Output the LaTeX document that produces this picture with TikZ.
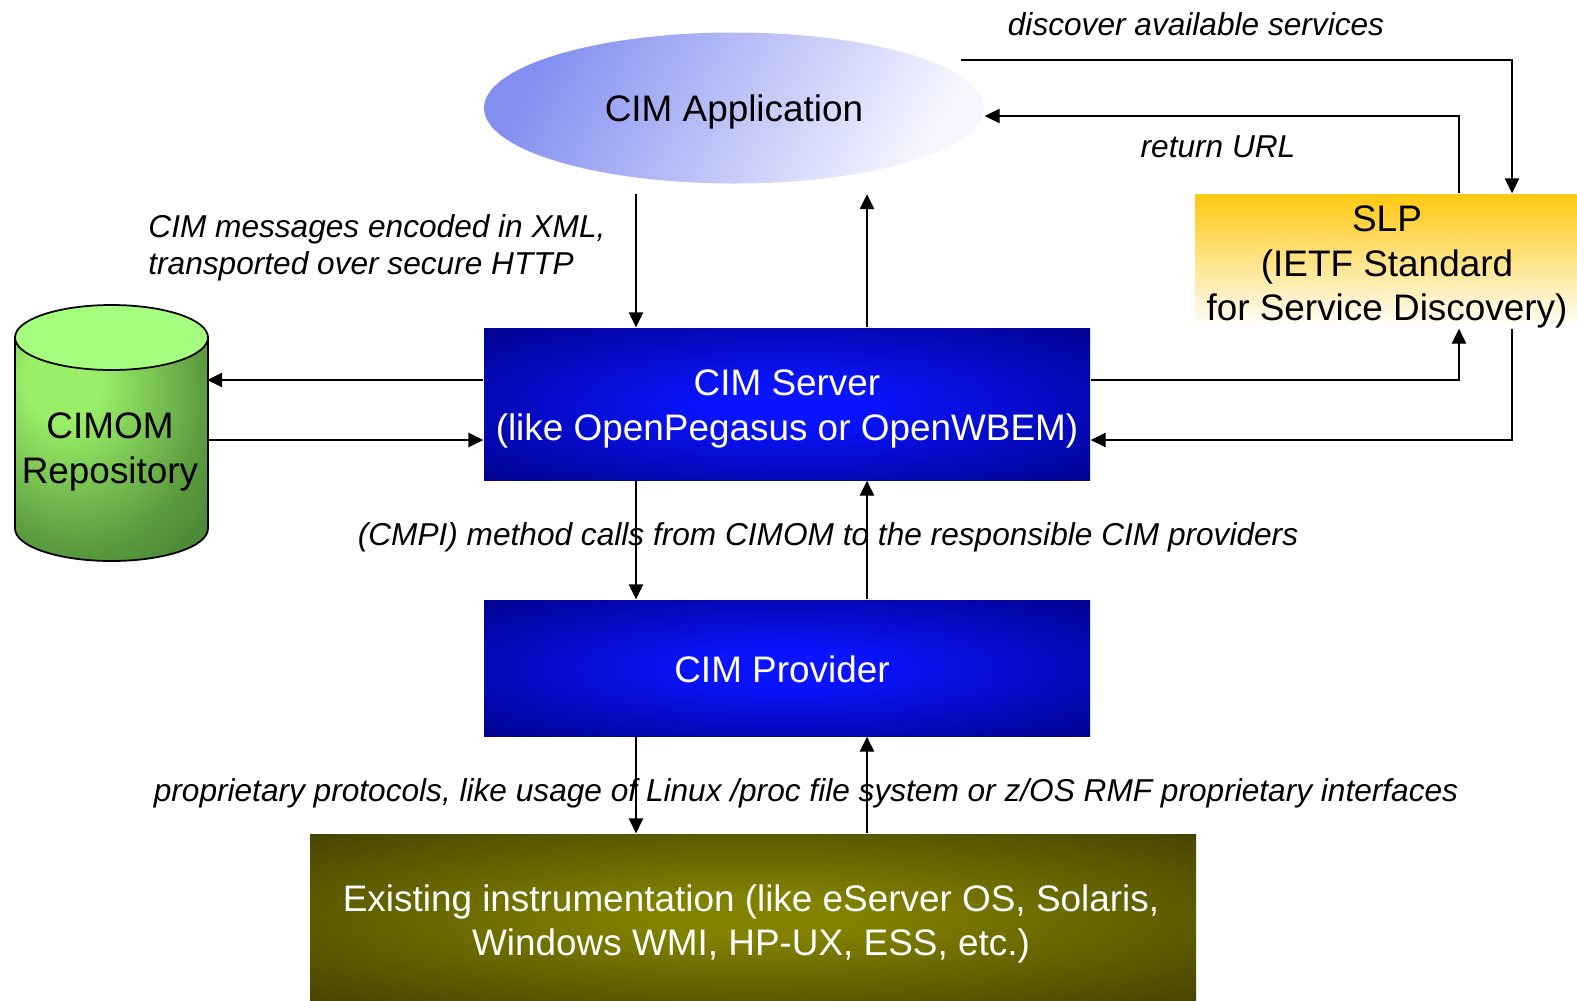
\documentclass[tikz,border=0pt]{standalone}
\usepackage{fontspec}
\setmainfont{Liberation Sans}
\usetikzlibrary{arrows.meta,shapes.geometric,calc}

\definecolor{appblue}{HTML}{8490F0}
\definecolor{appwhite}{HTML}{F6F6FF}
\definecolor{slpgold}{HTML}{FFC810}
\definecolor{srvcore}{HTML}{0A14FF}
\definecolor{srvedge}{HTML}{00007E}
\definecolor{olvcore}{HTML}{828200}
\definecolor{olvedge}{HTML}{3E3B00}
\definecolor{cylA}{HTML}{9AEE68}
\definecolor{cylB}{HTML}{5E9F40}
\definecolor{cylC}{HTML}{3A7230}
\definecolor{cyltop}{HTML}{A6FF7E}

% radial glow for the dark boxes
\pgfdeclareradialshading{blueglow}{\pgfpointorigin}{color(0bp)=(srvcore); color(6bp)=(srvcore); color(40bp)=(srvedge); color(70bp)=(srvedge)}
\pgfdeclareradialshading{oliveglow}{\pgfpointorigin}{color(0bp)=(olvcore); color(6bp)=(olvcore); color(40bp)=(olvedge); color(70bp)=(olvedge)}
% off-centre glow for the repository barrel
\pgfdeclareradialshading{barrelglow}{\pgfpoint{-14bp}{18bp}}{color(0bp)=(cylA); color(10bp)=(cylA); color(32bp)=(cylB); color(52bp)=(cylC); color(90bp)=(cylC)}

\tikzset{
  boxfont/.style={font=\fontsize{10.5}{12.7}\selectfont},
  lblfont/.style={font=\fontsize{9}{10.6}\selectfont\itshape},
  boxtext/.style={boxfont, align=center, inner sep=0pt},
  darkbox/.style={rectangle, inner sep=0pt, shading=blueglow},
  olivebox/.style={rectangle, inner sep=0pt, shading=oliveglow},
  arr/.style={draw=black, line width=0.4pt, -{Triangle[length=1.5mm, width=1.45mm]}},
}

\begin{document}
\begin{tikzpicture}[x=0.1mm, y=-0.1mm]
\useasboundingbox (0,0) rectangle (1577,1000);

% guide coordinates for connector lanes
\coordinate (xa) at (636,0);
\coordinate (xb) at (867,0);
\coordinate (xL) at (1459,0);
\coordinate (xR) at (1512,0);
\coordinate (yA) at (0,380);
\coordinate (yB) at (0,440);
\coordinate (yR) at (0,116);

% client application
\node[ellipse, minimum width=50mm, minimum height=15.1mm, inner sep=0pt,
      top color=appblue, bottom color=appwhite, shading angle=60]
      (app) at (734,108) {};
\node[boxtext] (appT) at ($(app.center)+(0,4)$) {CIM Application};
\coordinate (appout) at ($(app.east)+(-24,-48)$);

% service location protocol
\node[rectangle, minimum width=38.2mm, minimum height=13.4mm, inner sep=0pt,
      top color=slpgold, bottom color=white]
      (slp) at (1386,261) {};
\node[boxtext] (slpT) at ($(slp.center)+(1,6)$) {SLP\\(IETF Standard\\for Service Discovery)};

% repository barrel
\filldraw[draw=black, line width=0.5pt, shading=barrelglow]
  (15,337.5) -- (15,528.5)
  arc[start angle=180, end angle=360, x radius=9.65mm, y radius=3.25mm]
  -- (208,337.5) -- cycle;
\filldraw[draw=black, line width=0.5pt, fill=cyltop]
  (111.5,337.5) ellipse[x radius=9.65mm, y radius=3.25mm];
\node[minimum width=19.3mm, boxtext]
  (repo) at (110,452) {CIMOM\\Repository};

% server, provider, instrumentation
\node[darkbox, minimum width=60.6mm, minimum height=15.2mm] (srv) at (787,404) {};
\node[boxtext, text=white] (srvT) at ($(srv.center)+(0,5)$) {CIM Server\\(like OpenPegasus or OpenWBEM)};
\node[darkbox, minimum width=60.6mm, minimum height=13.6mm] (prov) at (787,668) {};
\node[boxtext, text=white] (provT) at ($(prov.center)+(-5,1)$) {CIM Provider};
\node[olivebox, minimum width=88.6mm, minimum height=16.6mm] (instr) at (753,917) {};
\node[boxtext, text=white] (instrT) at ($(instr.center)+(-2,7)$)
  {Existing instrumentation (like eServer OS, Solaris,\\Windows WMI, HP-UX, ESS, etc.)};

% labels
\node[lblfont] (ldisc) at (1196,24) {discover available services};
\node[lblfont] (lurl) at (1218,147) {return URL};
\node[lblfont, anchor=west, align=left] (lxml) at (136,248)
  {CIM messages encoded in XML,\\transported over secure HTTP};
\node[lblfont] (lcmpi) at (828,537)
  {(CMPI) method calls from CIMOM to the responsible CIM providers};
\node[lblfont] (lprop) at (806,793)
  {proprietary protocols, like usage of Linux /proc file system or z/OS RMF proprietary interfaces};

% application <-> server
\draw[arr, shorten <=1mm] (app.south -| xa) -- (srv.north -| xa);
\draw[arr, shorten >=1mm] (srv.north -| xb) -- (app.south -| xb);

% server <-> repository
\draw[arr] (srv.west |- yA) -- (repo.east |- yA);
\draw[arr] (repo.east |- yB) -- (srv.west |- yB);

% server <-> SLP
\draw[arr] (srv.east |- yA) -| (slp.south -| xL);
\draw[arr] (slp.south -| xR) |- (srv.east |- yB);

% application <-> SLP
\draw[arr] (appout) -| (slp.north -| xR);
\draw[arr] (slp.north -| xL) |- (app.east |- yR);

% server <-> provider
\draw[arr] (srv.south -| xa) -- (prov.north -| xa);
\draw[arr] (prov.north -| xb) -- (srv.south -| xb);

% provider <-> instrumentation
\draw[arr] (prov.south -| xa) -- (instr.north -| xa);
\draw[arr] (instr.north -| xb) -- (prov.south -| xb);
\end{tikzpicture}
\end{document}
